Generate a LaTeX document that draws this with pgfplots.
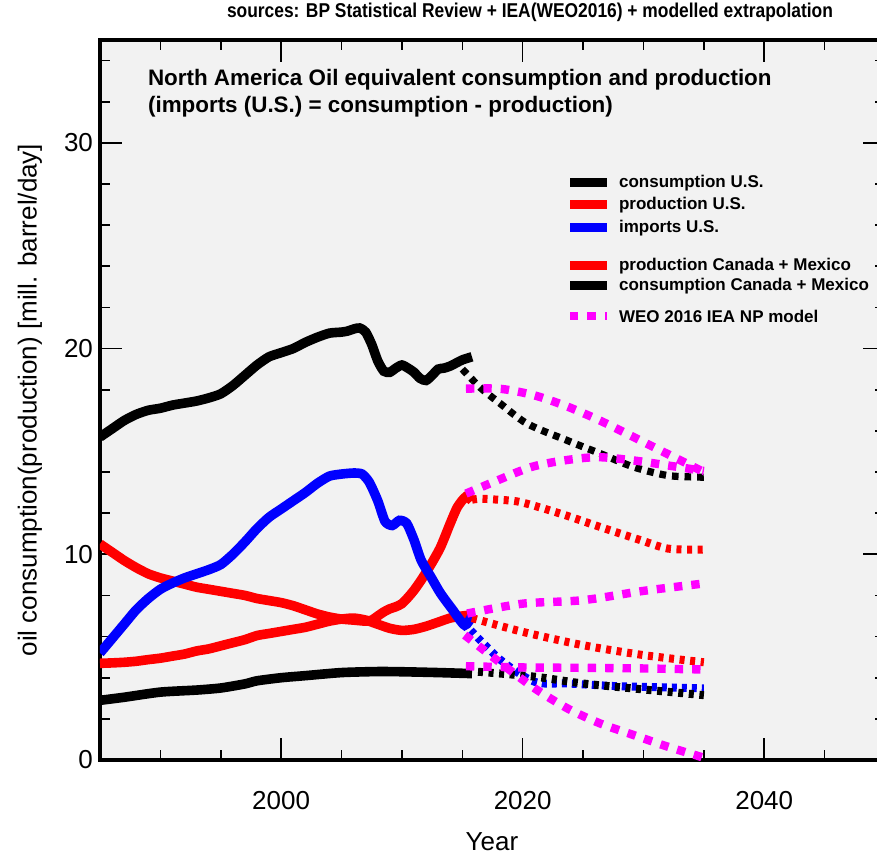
\documentclass[border=0pt]{standalone}
\usepackage{fontspec}
\setmainfont{Liberation Sans}
\usepackage{graphicx}
\usepackage{pgfplots}
\pgfplotsset{compat=1.18}
\definecolor{panel}{RGB}{242,242,242}
\definecolor{weo}{RGB}{255,0,255}

\begin{document}
\begin{tikzpicture}
\begin{axis}[
  at={(0,0)}, anchor=south west,
  scale only axis, width=392.5pt, height=360pt,
  xmin=1985, xmax=2050, ymin=0, ymax=35,
  axis background/.style={fill=panel},
  axis line style={line width=2pt},
  xtick={2000,2020,2040},
  minor xtick={1990,1995,2005,2010,2015,2025,2030,2035,2045},
  ytick={0,10,20,30},
  minor ytick={2,4,6,8,12,14,16,18,22,24,26,28,32,34},
  tick align=inside,
  major tick length=11pt, minor tick length=5pt,
  every tick/.style={black, line width=0.8pt},
  /pgf/number format/set thousands separator={},
  /pgf/number format/assume math mode=true,
  ticklabel style={font=\fontsize{13}{15}\selectfont},
  xticklabel style={yshift=-12pt},
  clip=true,
]
% historical (solid)
\addplot[black, line width=4.8pt, smooth, tension=0.4] coordinates {
 (1985,15.7) (1986,16.1) (1987,16.5) (1988,16.8) (1989,17.0) (1990,17.1)
 (1991,17.25) (1992,17.35) (1993,17.45) (1994,17.6) (1995,17.8) (1996,18.2)
 (1997,18.7) (1998,19.2) (1999,19.6) (2000,19.8) (2001,20.0) (2002,20.3)
 (2003,20.55) (2004,20.75) (2005,20.8) (2005.5,20.85) (2006,20.95) (2006.5,21.0)
 (2007,20.8) (2007.5,20.2) (2008,19.4) (2008.5,18.9) (2009,18.85) (2009.5,19.05)
 (2010,19.2) (2010.5,19.05) (2011,18.85) (2011.5,18.55) (2012,18.45) (2012.5,18.7)
 (2013,19.0) (2013.5,19.05) (2014,19.15) (2014.5,19.3) (2015,19.45) (2015.8,19.6)
};
\addplot[red, line width=4.8pt, smooth, tension=0.4] coordinates {
 (1985,10.5) (1986,10.1) (1987,9.7) (1988,9.35) (1989,9.05) (1990,8.85)
 (1991,8.7) (1992,8.55) (1993,8.4) (1994,8.3) (1995,8.2) (1996,8.1)
 (1997,8.0) (1998,7.85) (1999,7.75) (2000,7.65) (2001,7.5) (2002,7.3)
 (2003,7.1) (2004,6.95) (2005,6.85) (2006,6.8) (2007,6.75) (2007.5,6.8)
 (2008,7.0) (2008.5,7.2) (2009,7.35) (2009.5,7.45) (2010,7.6) (2010.5,7.9)
 (2011,8.25) (2011.6,8.75) (2012.4,9.5) (2013.2,10.35) (2014,11.5) (2014.6,12.3)
 (2015.3,12.8) (2015.8,12.6)
};
\addplot[red, line width=4.8pt, smooth, tension=0.4] coordinates {
 (1985,4.7) (1986,4.72) (1987,4.75) (1988,4.8) (1989,4.88) (1990,4.95)
 (1991,5.05) (1992,5.15) (1993,5.3) (1994,5.4) (1995,5.55) (1996,5.7)
 (1997,5.85) (1998,6.05) (1999,6.15) (2000,6.25) (2001,6.35) (2002,6.45)
 (2003,6.6) (2004,6.75) (2005,6.85) (2006,6.9) (2007,6.8) (2008,6.6)
 (2009,6.4) (2010,6.3) (2011,6.35) (2012,6.5) (2013,6.7) (2014,6.9)
 (2015,7.0) (2015.8,7.05)
};
\addplot[blue, line width=4.8pt, smooth, tension=0.4] coordinates {
 (1985,5.2) (1986,5.9) (1987,6.6) (1988,7.3) (1989,7.85) (1990,8.3)
 (1991,8.6) (1992,8.85) (1993,9.05) (1994,9.25) (1995,9.5) (1996,10.0)
 (1997,10.6) (1998,11.25) (1999,11.8) (2000,12.2) (2001,12.6) (2002,13.0)
 (2003,13.45) (2004,13.8) (2005,13.9) (2006,13.95) (2006.7,13.9) (2007.3,13.5)
 (2008,12.6) (2008.6,11.6) (2009.2,11.4) (2009.8,11.65) (2010.4,11.5) (2011,10.7)
 (2011.6,9.7) (2012.4,8.9) (2013.2,8.1) (2014.2,7.3) (2015.2,6.55) (2015.8,7.0)
};
\addplot[black, line width=4.8pt, smooth, tension=0.4] coordinates {
 (1985,2.9) (1987,3.05) (1990,3.3) (1993,3.4) (1995,3.5) (1997,3.7)
 (1998,3.85) (2000,4.0) (2002,4.1) (2005,4.25) (2008,4.3) (2010,4.29)
 (2013,4.25) (2015.8,4.2)
};
% projections (dotted)
\addplot[black, line width=3.6pt, dash pattern=on 3.3pt off 3pt, smooth] coordinates {
 (2015,19.0) (2016.5,18.1) (2018.2,17.3) (2020.4,16.34) (2023.7,15.53)
 (2026.4,14.9) (2029.2,14.24) (2032,13.83) (2034.7,13.75) (2035,13.75)
};
\addplot[red, line width=4pt, dash pattern=on 2.5pt off 2.8pt, smooth] coordinates {
 (2015.8,12.65) (2016.5,12.7) (2018,12.65) (2019.8,12.54) (2023.1,11.98)
 (2026.4,11.33) (2029.8,10.68) (2032,10.28) (2034.4,10.23) (2035,10.23)
};
\addplot[red, line width=4pt, dash pattern=on 2.5pt off 2.8pt, smooth] coordinates {
 (2015.8,6.9) (2020,6.23) (2025,5.58) (2030,5.1) (2035,4.75)
};
\addplot[blue, line width=4pt, dash pattern=on 2.5pt off 2.5pt, smooth] coordinates {
 (2015.7,6.3) (2018.2,4.85) (2021,3.8) (2023.7,3.72) (2027.8,3.59)
 (2032,3.53) (2035,3.48)
};
\addplot[black, line width=4pt, dash pattern=on 2.5pt off 2.8pt, smooth] coordinates {
 (2016.3,4.29) (2021,4.05) (2025,3.72) (2030.5,3.4) (2035,3.15)
};
% WEO 2016 IEA NP model
\addplot[weo, line width=4.2pt, dash pattern=on 4.2pt off 4.5pt, smooth] coordinates {
 (2015.3,18.05) (2018.2,18.04) (2021,17.72) (2023.7,17.18) (2026.4,16.5)
 (2028.9,15.78) (2031.4,15.05) (2035,14.0)
};
\addplot[weo, line width=4.2pt, dash pattern=on 4.2pt off 4.5pt, smooth] coordinates {
 (2015.3,12.95) (2017.9,13.59) (2020.7,14.24) (2023.4,14.56) (2026.2,14.72)
 (2029.2,14.56) (2032,14.32) (2035,14.05)
};
\addplot[weo, line width=4.2pt, dash pattern=on 4.2pt off 4.5pt, smooth] coordinates {
 (2015.4,7.12) (2020,7.6) (2025,7.77) (2030,8.22) (2035,8.58)
};
\addplot[weo, line width=4.2pt, dash pattern=on 4.2pt off 4.5pt, smooth] coordinates {
 (2015.3,4.56) (2020,4.5) (2025,4.48) (2030,4.45) (2035,4.4)
};
\addplot[weo, line width=4.2pt, dash pattern=on 4.2pt off 4.5pt, smooth] coordinates {
 (2015.2,6.07) (2018.2,4.7) (2021,3.48) (2023.7,2.51) (2026.4,1.78)
 (2029.2,1.21) (2032,0.65) (2034.5,0.2) (2035,0.1)
};
\end{axis}

% titles and labels
\node[anchor=base] at (215pt,371pt)
  {\scalebox{0.87}[1]{\bfseries\fontsize{10}{12}\selectfont sources: BP Statistical Review + IEA(WEO2016) + modelled extrapolation}};
\node[anchor=west, align=left, font=\bfseries\fontsize{11.2}{13.5}\selectfont] at (20.5pt,333.5pt)
  {North America Oil equivalent consumption and production\\(imports (U.S.) = consumption - production)};
\node[rotate=90, font=\fontsize{13}{15}\selectfont] at (-35pt,180pt)
  {oil consumption(production) [mill. barrel/day]};
\node[font=\fontsize{13}{15}\selectfont] at (196pt,-41pt) {Year};

% legend
\begin{scope}[font=\bfseries\fontsize{8.5}{10}\selectfont]
\draw[black, line width=4.5pt] (235pt,288.5pt) -- (253.5pt,288.5pt);
\node[anchor=west] at (256pt,288.5pt) {consumption U.S.};
\draw[red, line width=4.5pt] (235pt,277.5pt) -- (253.5pt,277.5pt);
\node[anchor=west] at (256pt,277.5pt) {production U.S.};
\draw[blue, line width=4.5pt] (235pt,266pt) -- (253.5pt,266pt);
\node[anchor=west] at (256pt,266pt) {imports U.S.};
\draw[red, line width=4.5pt] (235pt,247pt) -- (253.5pt,247pt);
\node[anchor=west] at (256pt,247pt) {production Canada + Mexico};
\draw[black, line width=4.5pt] (235pt,237pt) -- (253.5pt,237pt);
\node[anchor=west] at (256pt,237pt) {consumption Canada + Mexico};
\draw[weo, line width=4.2pt, dash pattern=on 4.2pt off 4.5pt] (235pt,222pt) -- (253.5pt,222pt);
\node[anchor=west] at (256pt,222pt) {WEO 2016 IEA NP model};
\end{scope}

\pgfresetboundingbox
\path[use as bounding box] (-50pt,-48pt) rectangle (388.5pt,380pt);
\end{tikzpicture}
\end{document}
